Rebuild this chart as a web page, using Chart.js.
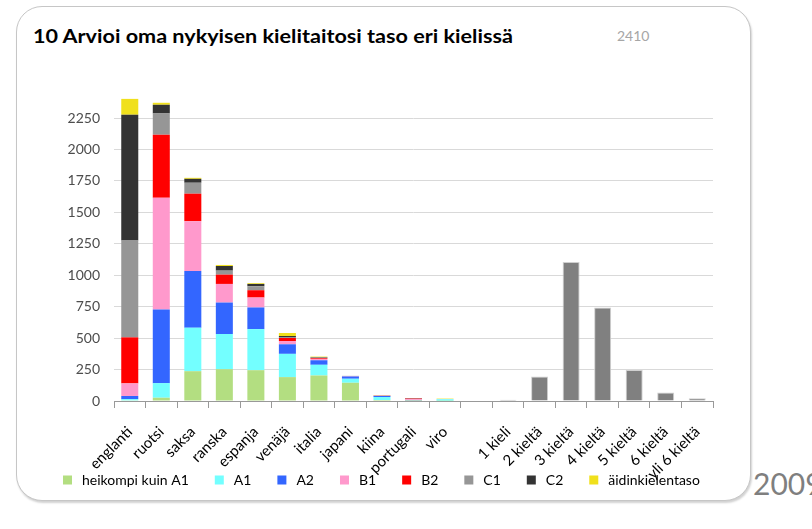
<!DOCTYPE html>
<html><head><meta charset="utf-8">
<script src="https://cdn.jsdelivr.net/npm/chart.js@4.4.1/dist/chart.umd.min.js"></script>
<style>
html,body{margin:0;padding:0;background:#fff;width:812px;height:529px;overflow:hidden;font-family:Lato,"Open Sans",sans-serif}
#card{position:absolute;left:16px;top:6px;width:733px;height:493px;border:1px solid #c6c6c6;border-radius:26px;box-shadow:1px 2px 2px rgba(0,0,0,0.18);background:#fff}
#title{position:absolute;left:33px;top:26px;font-weight:bold;font-size:18px;color:#000;white-space:nowrap;line-height:20px;transform:scaleX(1.2);transform-origin:0 0}
#n{position:absolute;left:617px;top:28px;font-size:14px;color:#a6a6a6;line-height:16px}
#year{position:absolute;left:753px;top:466px;font-size:30px;color:#7f7f7f;line-height:34px}
#c{position:absolute;left:0;top:0}
</style></head>
<body>
<div id="card"></div>
<div id="title">10 Arvioi oma nykyisen kielitaitosi taso eri kielissä</div>
<div id="n">2410</div>
<div id="year">2009</div>
<canvas id="c" width="812" height="529"></canvas>
<script>
const categories = ["englanti","ruotsi","saksa","ranska","espanja","venäjä","italia","japani","kiina","portugali","viro","","1 kieli","2 kieltä","3 kieltä","4 kieltä","5 kieltä","6 kieltä","yli 6 kieltä"];
const levelNames = ["heikompi kuin A1","A1","A2","B1","B2","C1","C2","äidinkielentaso"];
// values per language (englanti ... viro)
const heikompi = [5, 26, 237, 253, 245, 190, 203, 145, 8, 1, 2];
const a1       = [10, 116, 346, 280, 327, 185, 85, 32, 24, 2, 12];
const a2       = [25, 586, 451, 250, 172, 76, 36, 18, 8, 2, 1];
const b1       = [100, 889, 396, 148, 79, 26, 11, 3, 2, 10, 1];
const b2       = [366, 501, 219, 74, 58, 24, 6, 1, 1, 4, 0];
const c1       = [771, 169, 87, 32, 32, 8, 3, 1, 1, 2, 0];
const c2       = [1000, 69, 31, 37, 18, 8, 4, 0, 1, 3, 0];
const aidinkieli = [126, 16, 8, 8, 6, 24, 5, 0, 2, 0, 3];
// number of languages known (1 kieli ... yli 6 kieltä)
const kieltenMaara = [10, 194, 1105, 744, 246, 68, 21];
const yTicks = [0,250,500,750,1000,1250,1500,1750,2000,2250];
const yMax = 2410;

const colors = ["#b3de81","#73ffff","#3366ff","#ff99cc","#ff0000","#969696","#333333","#f0e01c"];
const levelSeries = [heikompi,a1,a2,b1,b2,c1,c2,aidinkieli];
const nLang = heikompi.length;
const gap = categories.length - nLang - kieltenMaara.length;

const datasets = levelSeries.map((arr,i)=>({
  label: levelNames[i],
  data: arr.concat(new Array(categories.length - nLang).fill(null)),
  backgroundColor: colors[i],
  borderWidth: 0,
  barPercentage: 0.54,
  categoryPercentage: 1.0
}));
datasets.push({
  label: "kieliä",
  data: new Array(nLang + gap).fill(null).concat(kieltenMaara),
  backgroundColor: "#808080",
  borderColor: "#d0d0d0",
  borderWidth: 1,
  barPercentage: 0.54,
  categoryPercentage: 1.0
});

// legend drawn below the axis labels, one row like the original
const rowLegend = {
  id: 'rowLegend',
  afterDraw(chart) {
    const ctx = chart.ctx;
    ctx.save();
    ctx.font = '14px Lato';
    ctx.textBaseline = 'middle';
    let x = 63; const y = 480;
    chart.data.datasets.slice(0, levelNames.length).forEach(ds => {
      ctx.fillStyle = ds.backgroundColor;
      ctx.fillRect(x, y - 4.5, 9, 9);
      x += 9 + 10;
      ctx.fillStyle = '#000';
      ctx.fillText(ds.label, x, y);
      x += ctx.measureText(ds.label).width + 26;
    });
    ctx.restore();
  }
};

new Chart(document.getElementById('c'), {
  type: 'bar',
  data: { labels: categories, datasets },
  plugins: [rowLegend],
  options: {
    responsive: false,
    animation: false,
    layout: { padding: { left: 50, right: 99, top: 98, bottom: 48 } },
    plugins: {
      legend: { display: false },
      tooltip: { enabled: false }
    },
    scales: {
      x: {
        stacked: true,
        grid: { display: true, drawOnChartArea: false, drawTicks: true, tickLength: 7, color: '#999', offset: true },
        border: { color: '#999' },
        ticks: { autoSkip: false, maxRotation: 45, minRotation: 45, padding: 15, font: { family: 'Lato', size: 15 }, color: '#000' },
        afterFit: (s) => { s.height = 80; }
      },
      y: {
        stacked: true, min: 0, max: yMax,
        afterBuildTicks: (s) => { s.ticks = yTicks.map(v => ({ value: v })); },
        grid: { color: '#d9d9d9', drawTicks: false },
        border: { display: false },
        ticks: { padding: 14, font: { family: 'Lato', size: 14 }, color: '#4d4d4d', callback: (v) => String(v) },
        afterFit: (s) => { s.width = 64; }
      }
    }
  }
});
</script>
</body></html>
